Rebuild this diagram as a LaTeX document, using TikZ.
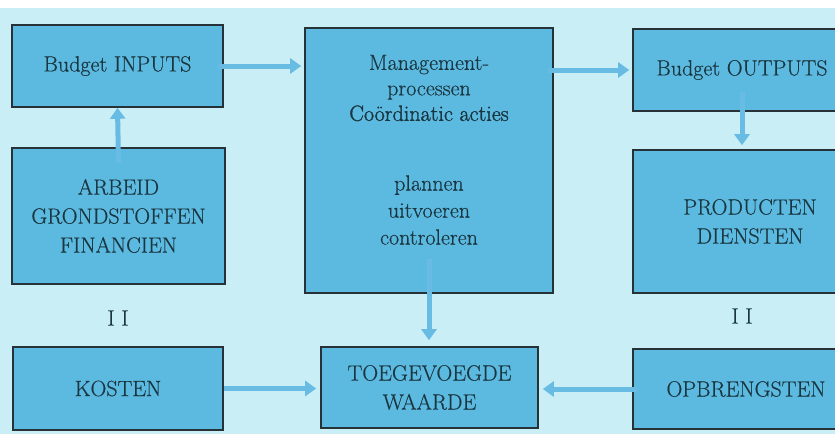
\documentclass[tikz,border=0pt]{standalone}
\usepackage{fontspec}
\setmainfont[FakeBold=0.4]{Latin Modern Roman}
\newfontfamily\boldish[FakeBold=1.4]{Latin Modern Roman}
\usetikzlibrary{arrows.meta}
\definecolor{bgc}{RGB}{202,238,246}
\definecolor{boxfill}{RGB}{92,185,224}
\definecolor{boxline}{RGB}{38,50,56}
\definecolor{txt}{RGB}{26,54,64}
\definecolor{arrowc}{RGB}{104,188,228}
\tikzset{
  box/.style={draw=boxline, fill=boxfill, line width=1.6pt, inner sep=0pt,
    text=txt, align=center, font=\fontsize{22}{29}\selectfont},
  lbl/.style={text=txt, inner sep=0pt, align=center, font=\fontsize{22}{25.5}\selectfont},
  arr/.style={draw=arrowc, line width=5pt, -{Triangle[width=15pt,length=11pt]}}
}
\begin{document}
\begin{tikzpicture}[x=1pt,y=-1pt]
\useasboundingbox (0,0) rectangle (835,434);
\clip (0,0) rectangle (835,434);
\fill[white] (0,0) rectangle (835,434);
\fill[bgc] (0,8) rectangle (835,434);
% boxes
\node[box, minimum width=211pt, minimum height=82pt] (inp) at (117.5,66) {Budget INPUTS};
\node[box, minimum width=213pt, minimum height=136pt] (arb) at (118.5,216) {ARBEID\\GRONDSTOFFEN\\FINANCIEN};
\node[box, minimum width=248pt, minimum height=265pt] (man) at (429,160.5) {};
\node[box, minimum width=218pt, minimum height=82pt] (bout) at (742,70) {Budget OUTPUTS};
\node[box, minimum width=234pt, minimum height=143pt] (prod) at (750,221.5) {PRODUCTEN\\DIENSTEN};
\node[box, minimum width=210pt, minimum height=83pt] (kos) at (118,388.5) {KOSTEN};
\node[box, minimum width=217pt, minimum height=81pt] (toe) at (429.5,387.5) {TOEGEVOEGDE\\WAARDE};
\node[box, minimum width=226pt, minimum height=80pt] (opb) at (746,389) {OPBRENGSTEN};
% texts in the management box
\node[lbl] (mant) at (429,88) {Management-\\processen\\{\boldish Coördinatic acties}};
\node[lbl, font=\fontsize{22}{27}\selectfont] (mans) at (429,210) {plannen\\uitvoeren\\controleren};
% equals-like labels
\node[lbl] (eql) at (118,318) {I I};
\node[lbl] (eqr) at (742,316) {I I};
% arrows
\draw[arr] ([yshift=-16pt]arb.north) -- (inp.south);
\draw[arr] ([xshift=-6pt]inp.east) -- ([xshift=-3pt]inp.east -| man.west);
\draw[arr] ([xshift=-6pt]man.east |- bout.west) -- ([xshift=-3pt]bout.west);
\draw[arr] ([yshift=20pt]bout.south) -- ([yshift=4pt]bout.south |- prod.north);
\draw[arr] ([yshift=35pt]man.south) -- ([yshift=6pt]man.south |- toe.north);
\draw[arr] (kos.east) -- ([xshift=-4pt]kos.east -| toe.west);
\draw[arr] ([xshift=5pt]opb.west) -- ([xshift=4pt]opb.west -| toe.east);
\end{tikzpicture}
\end{document}
